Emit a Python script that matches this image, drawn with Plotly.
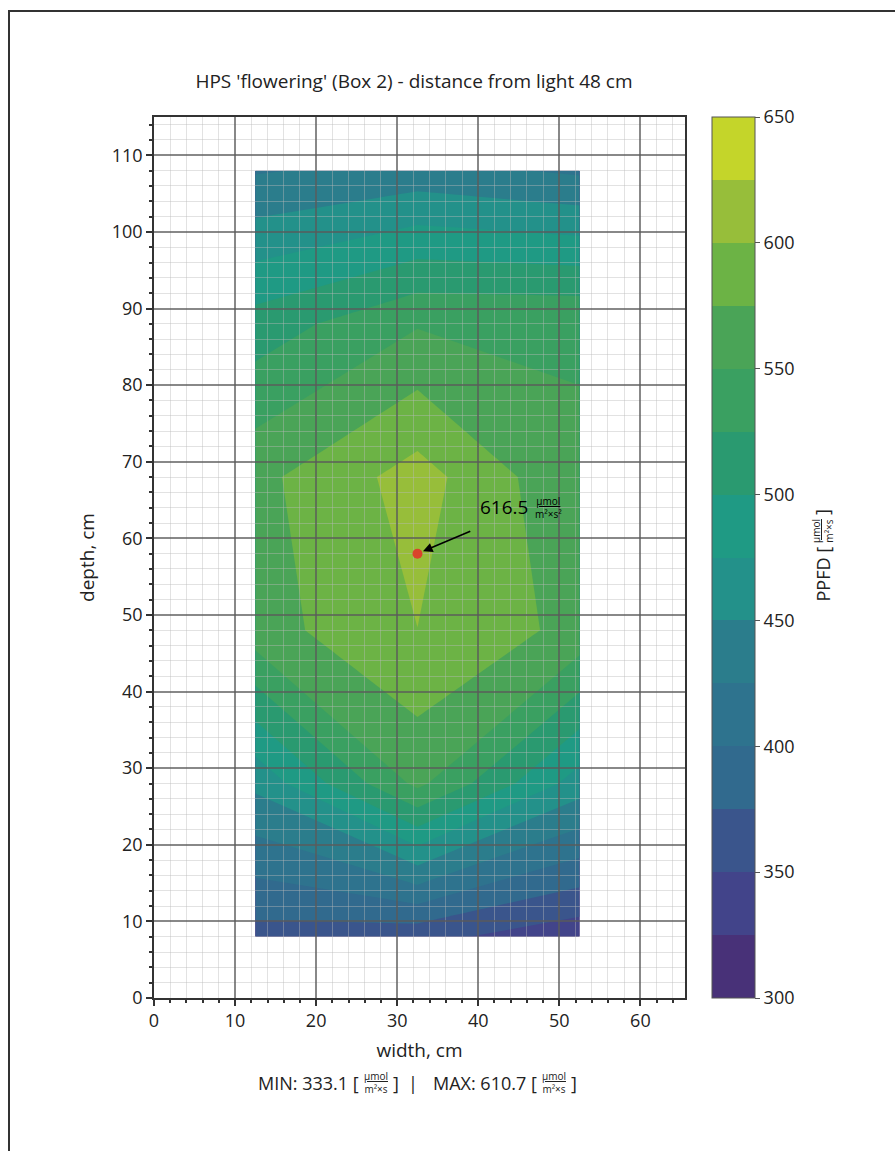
import plotly.graph_objects as go

# ---------------- data ----------------
x_cm = [12.5, 32.5, 52.5]
y_cm = [8, 28, 48, 68, 88, 108]
ppfd = [
    [365.0, 358.0, 333.1],   # y = 8
    [456.0, 556.0, 463.0],   # y = 28
    [564.0, 599.8, 567.0],   # y = 48
    [568.0, 610.7, 553.0],   # y = 68
    [511.0, 548.0, 548.0],   # y = 88
    [422.7, 434.7, 421.0],   # y = 108
]
level_start, level_end, level_step = 300, 650, 25
band_colors = ['#483178', '#42448a', '#3a558c', '#316a8e', '#2e738e', '#2b7d8c',
               '#23918a', '#1f9a84', '#2a9a70', '#3aa061', '#4aa457', '#6cb345',
               '#97be3a', '#c4d52a']
colorbar_ticks = [300, 350, 400, 450, 500, 550, 600, 650]
peak_x, peak_y, peak_value = 32.5, 58, 616.5
min_value, max_value = 333.1, 610.7

title_text = "HPS 'flowering' (Box 2) - distance from light 48 cm"
x_title, y_title = "width, cm", "depth, cm"

# ---------------- figure ----------------
FONT = "Open Sans"
TXT = '#222'
W, H = 895, 1151
L, R, T, B = 154, 210, 117, 153
PW, PH = W - L - R, H - T - B


def px(xp):
    return (xp - L) / PW


def py(yp):
    return (H - B - yp) / PH


nb = len(band_colors)
cscale = []
for k, c in enumerate(band_colors):
    cscale.append([k / nb, c])
    cscale.append([(k + 1) / nb, c])

fig = go.Figure()
fig.add_trace(go.Contour(
    x=x_cm, y=y_cm, z=ppfd, xaxis='x', yaxis='y',
    zmin=level_start, zmax=level_end, autocontour=False,
    contours=dict(start=level_start, end=level_end, size=level_step,
                  coloring='fill', showlines=False),
    line=dict(width=0, smoothing=0),
    colorscale=cscale,
    colorbar=dict(x=px(712), xanchor='left', xpad=0, ypad=0,
                  y=0.5, yanchor='middle', len=1, lenmode='fraction',
                  thickness=43, thicknessmode='pixels',
                  outlinewidth=1, outlinecolor='#555',
                  tickmode='array', tickvals=colorbar_ticks,
                  ticks='outside', ticklen=5, tickcolor='#555',
                  tickfont=dict(family=FONT, size=18, color=TXT)),
    hoverinfo='skip',
))
fig.add_trace(go.Scatter(
    x=[peak_x], y=[peak_y], xaxis='x2', yaxis='y2', mode='markers',
    marker=dict(size=10, color='#d9432b'), showlegend=False, hoverinfo='skip'))

xr, yr = [0, 65.5], [0, 115]
axis_common = dict(
    showgrid=True, gridcolor='rgba(90,90,90,0.72)', gridwidth=1.5,
    minor=dict(dtick=2, showgrid=True, gridcolor='rgba(185,185,185,0.42)', gridwidth=1,
               ticks='outside', ticklen=3, tickcolor='#333', tickwidth=1.5),
    dtick=10, tick0=0, ticks='outside', ticklen=6, tickwidth=1.5, tickcolor='#333',
    showline=True, linecolor='#333', linewidth=1.5, mirror=True,
    zeroline=False,
    tickfont=dict(family=FONT, size=18, color=TXT),
)
fig.update_layout(
    width=W, height=H,
    margin=dict(l=L, r=R, t=T, b=B),
    paper_bgcolor='white', plot_bgcolor='rgba(0,0,0,0)',
    showlegend=False,
    font=dict(family=FONT, color=TXT),
    title=dict(text=title_text, x=414 / W, xanchor='center', y=1 - 81 / H, yanchor='middle',
               font=dict(family=FONT, size=19, color=TXT)),
    xaxis=dict(domain=[0, 1], range=xr, visible=False, anchor='y'),
    yaxis=dict(domain=[0, 1], range=yr, visible=False, anchor='x'),
    xaxis2=dict(domain=[0, 1], range=xr, anchor='y2',
                title=dict(text=x_title, standoff=12, font=dict(family=FONT, size=19, color=TXT)),
                **axis_common),
    yaxis2=dict(domain=[0, 1], range=yr, anchor='x2',
                title=dict(text=y_title, standoff=12, font=dict(family=FONT, size=19, color=TXT)),
                **axis_common),
)

FRAC = '<u>µmol</u><br>m²×s'
ann = []
# arrow to peak
ann.append(dict(x=peak_x, y=peak_y, xref='x2', yref='y2', ax=39.2, ay=61.0, axref='x2', ayref='y2',
                text='', showarrow=True, arrowhead=2, arrowsize=1.2, arrowwidth=1.6,
                arrowcolor='black', standoff=6))
ann.append(dict(x=px(478), y=py(507), xref='paper', yref='paper', xanchor='left', yanchor='middle',
                text=f'{peak_value}', showarrow=False, font=dict(family=FONT, size=19, color='black')))
ann.append(dict(x=px(548), y=py(507), xref='paper', yref='paper', xanchor='center', yanchor='middle',
                text='<u>µmol</u><br>m²×s²', showarrow=False,
                font=dict(family=FONT, size=10, color='black')))

# colorbar title (rotated)
ann.append(dict(x=px(822), y=py(604), xref='paper', yref='paper', xanchor='center', yanchor='bottom',
                text='PPFD [', textangle=-90, showarrow=False, font=dict(family=FONT, size=18, color=TXT)))
ann.append(dict(x=px(822), y=py(531), xref='paper', yref='paper', xanchor='center', yanchor='middle',
                text=FRAC, textangle=-90, showarrow=False, font=dict(family=FONT, size=10, color=TXT)))
ann.append(dict(x=px(822), y=py(512), xref='paper', yref='paper', xanchor='center', yanchor='middle',
                text=']', textangle=-90, showarrow=False, font=dict(family=FONT, size=18, color=TXT)))

# bottom MIN / MAX line
yb = 1083
ann.append(dict(x=px(361), y=py(yb), xref='paper', yref='paper', xanchor='right', yanchor='middle',
                text=f'MIN: {min_value} [', showarrow=False, font=dict(family=FONT, size=18, color=TXT)))
ann.append(dict(x=px(376), y=py(1082), xref='paper', yref='paper', xanchor='center', yanchor='middle',
                text=FRAC, showarrow=False, font=dict(family=FONT, size=10, color=TXT)))
ann.append(dict(x=px(391), y=py(yb), xref='paper', yref='paper', xanchor='left', yanchor='middle',
                text=']', showarrow=False, font=dict(family=FONT, size=18, color=TXT)))
ann.append(dict(x=px(413), y=py(yb), xref='paper', yref='paper', xanchor='center', yanchor='middle',
                text='|', showarrow=False, font=dict(family=FONT, size=18, color=TXT)))
ann.append(dict(x=px(539), y=py(yb), xref='paper', yref='paper', xanchor='right', yanchor='middle',
                text=f'MAX: {max_value} [', showarrow=False, font=dict(family=FONT, size=18, color=TXT)))
ann.append(dict(x=px(554), y=py(1082), xref='paper', yref='paper', xanchor='center', yanchor='middle',
                text=FRAC, showarrow=False, font=dict(family=FONT, size=10, color=TXT)))
ann.append(dict(x=px(569), y=py(yb), xref='paper', yref='paper', xanchor='left', yanchor='middle',
                text=']', showarrow=False, font=dict(family=FONT, size=18, color=TXT)))
fig.update_layout(annotations=ann)

# outer frame of the figure
fig.add_shape(type='rect', xref='paper', yref='paper', x0=px(9), x1=px(905), y0=py(1165), y1=py(11),
              line=dict(color='#333', width=2), fillcolor='rgba(0,0,0,0)', layer='below')

fig.write_html("out.html", config={'displayModeBar': False},
               post_script="document.body.style.margin='0px';")
